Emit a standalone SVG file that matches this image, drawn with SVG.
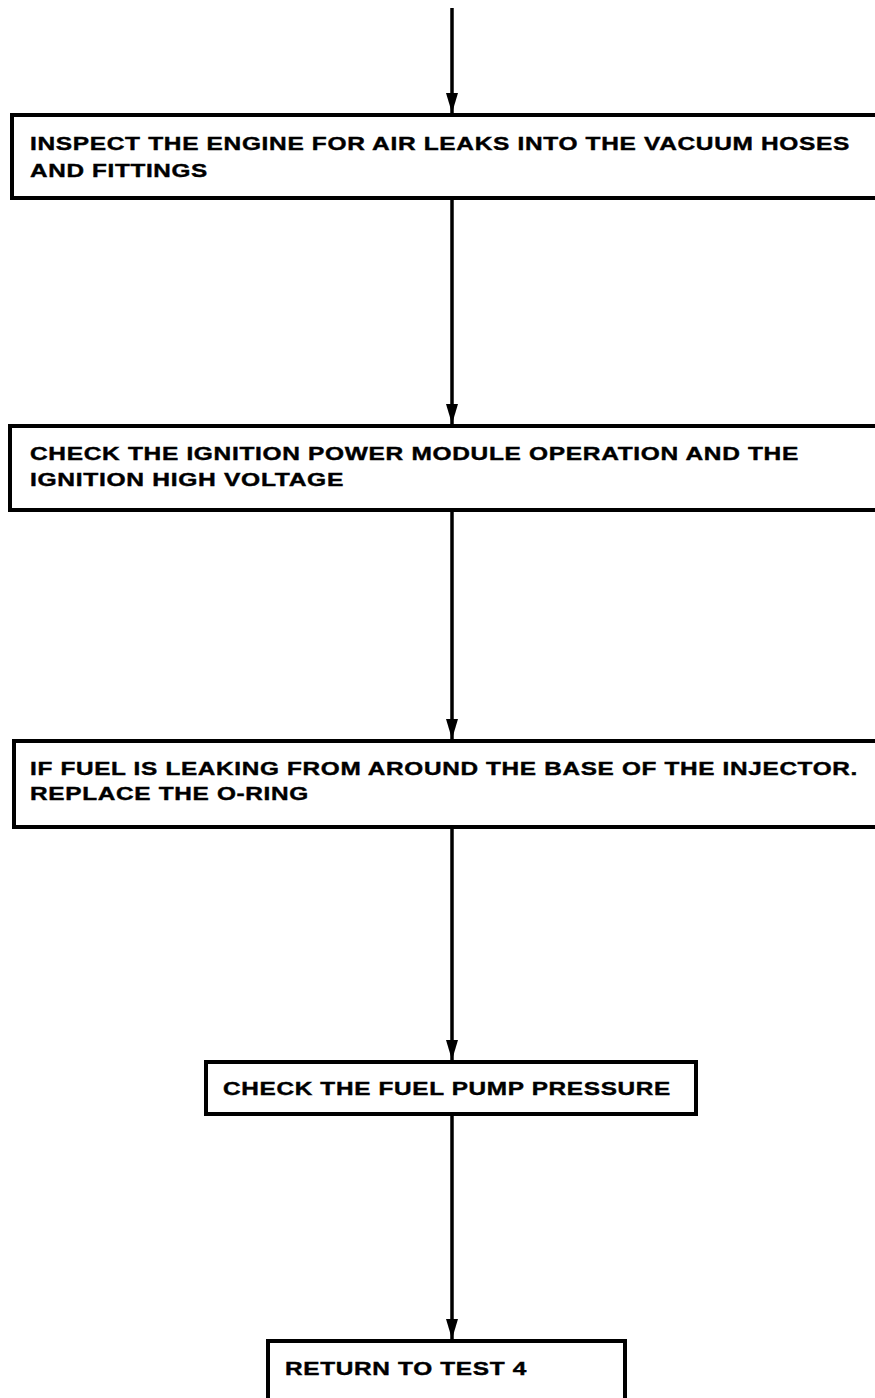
<svg xmlns="http://www.w3.org/2000/svg" width="875" height="1398" viewBox="0 0 875 1398">
<style>
.box{fill:#fff;stroke:#000;stroke-width:4}
.t{font-family:"Liberation Sans",Arial,sans-serif;font-weight:bold;font-size:18px;letter-spacing:0.5px;fill:#000;stroke:#000;stroke-width:0.4}
.c{stroke:#000;stroke-width:3.5;fill:none}
</style>
<defs>
<marker id="arr" markerWidth="20" markerHeight="12" refX="20" refY="6" orient="auto" markerUnits="userSpaceOnUse" viewBox="0 0 20 12">
<path d="M0,0 L20,6 L0,12 Z" fill="#000"/>
</marker>
</defs>
<g id="connectors">
<line class="c" x1="452" y1="8" x2="452" y2="113" marker-end="url(#arr)"/>
<line class="c" x1="452" y1="198" x2="452" y2="424" marker-end="url(#arr)"/>
<line class="c" x1="452" y1="510" x2="452" y2="739" marker-end="url(#arr)"/>
<line class="c" x1="452" y1="827" x2="452" y2="1060" marker-end="url(#arr)"/>
<line class="c" x1="452" y1="1114" x2="452" y2="1339" marker-end="url(#arr)"/>
</g>
<g id="node1">
<rect class="box" x="12" y="115" width="870" height="83"/>
<text class="t" x="30" y="150" textLength="820" lengthAdjust="spacingAndGlyphs">INSPECT THE ENGINE FOR AIR LEAKS INTO THE VACUUM HOSES</text>
<text class="t" x="30" y="177" textLength="178" lengthAdjust="spacingAndGlyphs">AND FITTINGS</text>
</g>
<g id="node2">
<rect class="box" x="10" y="426" width="872" height="84"/>
<text class="t" x="30" y="460" textLength="769" lengthAdjust="spacingAndGlyphs">CHECK THE IGNITION POWER MODULE OPERATION AND THE</text>
<text class="t" x="30" y="486" textLength="314" lengthAdjust="spacingAndGlyphs">IGNITION HIGH VOLTAGE</text>
</g>
<g id="node3">
<rect class="box" x="14" y="741" width="868" height="86"/>
<text class="t" x="30" y="775" textLength="828" lengthAdjust="spacingAndGlyphs">IF FUEL IS LEAKING FROM AROUND THE BASE OF THE INJECTOR.</text>
<text class="t" x="30" y="800" textLength="279" lengthAdjust="spacingAndGlyphs">REPLACE THE O-RING</text>
</g>
<g id="node4">
<rect class="box" x="206" y="1062" width="490" height="52"/>
<text class="t" x="223" y="1095" textLength="448" lengthAdjust="spacingAndGlyphs">CHECK THE FUEL PUMP PRESSURE</text>
</g>
<g id="node5">
<rect class="box" x="268" y="1341" width="357" height="70"/>
<text class="t" x="285" y="1375" textLength="242" lengthAdjust="spacingAndGlyphs">RETURN TO TEST 4</text>
</g>
</svg>
